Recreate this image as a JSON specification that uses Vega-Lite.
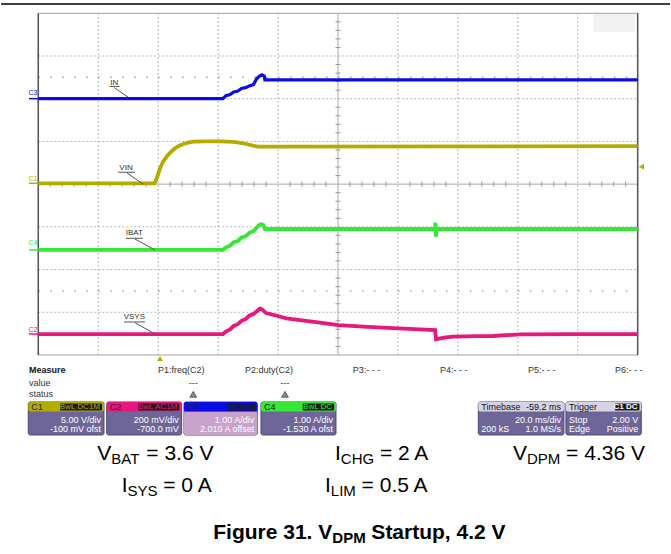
{
"$schema": "https://vega.github.io/schema/vega-lite/v6.json",
"width": 671, "height": 554,
"autosize": {"type": "fit", "contains": "padding"},
"padding": 0,
"background": "white",
"config": {"view": {"stroke": null}, "axis": {"disable": true}, "legend": {"disable": true}},
"datasets": {
"vgrid": [{"x":1},{"x":2},{"x":3},{"x":4},{"x":6},{"x":7},{"x":8},{"x":9}],
"hgrid": [{"y":1},{"y":2},{"y":3},{"y":5},{"y":6},{"y":7}],
"xticks": [{"x":0.2},{"x":0.4},{"x":0.6},{"x":0.8},{"x":1.2},{"x":1.4},{"x":1.6},{"x":1.8},{"x":2.2},{"x":2.4},{"x":2.6},{"x":2.8},{"x":3.2},{"x":3.4},{"x":3.6},{"x":3.8},{"x":4.2},{"x":4.4},{"x":4.6},{"x":4.8},{"x":5.2},{"x":5.4},{"x":5.6},{"x":5.8},{"x":6.2},{"x":6.4},{"x":6.6},{"x":6.8},{"x":7.2},{"x":7.4},{"x":7.6},{"x":7.8},{"x":8.2},{"x":8.4},{"x":8.6},{"x":8.8},{"x":9.2},{"x":9.4},{"x":9.6},{"x":9.8}],
"yticks": [{"y":0.2},{"y":0.4},{"y":0.6},{"y":0.8},{"y":1.2},{"y":1.4},{"y":1.6},{"y":1.8},{"y":2.2},{"y":2.4},{"y":2.6},{"y":2.8},{"y":3.2},{"y":3.4},{"y":3.6},{"y":3.8},{"y":4.2},{"y":4.4},{"y":4.6},{"y":4.8},{"y":5.2},{"y":5.4},{"y":5.6},{"y":5.8},{"y":6.2},{"y":6.4},{"y":6.6},{"y":6.8},{"y":7.2},{"y":7.4},{"y":7.6},{"y":7.8}],
"dots": [{"y":6.5},{"y":1.5}],
"edges": [{"x":0},{"x":10}],
"traces": [
{"ch":"C3","x":0,"y":6.0},{"ch":"C3","x":3.08,"y":6.0},{"ch":"C3","x":3.13,"y":6.07},{"ch":"C3","x":3.2,"y":6.1},{"ch":"C3","x":3.26,"y":6.16},{"ch":"C3","x":3.33,"y":6.18},{"ch":"C3","x":3.39,"y":6.24},{"ch":"C3","x":3.46,"y":6.26},{"ch":"C3","x":3.52,"y":6.3},{"ch":"C3","x":3.59,"y":6.33},{"ch":"C3","x":3.64,"y":6.46},{"ch":"C3","x":3.68,"y":6.52},{"ch":"C3","x":3.73,"y":6.56},{"ch":"C3","x":3.77,"y":6.53},{"ch":"C3","x":3.78,"y":6.44},{"ch":"C3","x":10,"y":6.44},
{"ch":"C1","x":0,"y":4.02},{"ch":"C1","x":1.94,"y":4.02},{"ch":"C1","x":1.98,"y":4.15},{"ch":"C1","x":2.03,"y":4.37},{"ch":"C1","x":2.08,"y":4.52},{"ch":"C1","x":2.14,"y":4.64},{"ch":"C1","x":2.21,"y":4.75},{"ch":"C1","x":2.28,"y":4.84},{"ch":"C1","x":2.35,"y":4.9},{"ch":"C1","x":2.42,"y":4.94},{"ch":"C1","x":2.5,"y":4.97},{"ch":"C1","x":2.59,"y":4.995},{"ch":"C1","x":2.8,"y":5.0},{"ch":"C1","x":3.05,"y":5.0},{"ch":"C1","x":3.25,"y":4.99},{"ch":"C1","x":3.35,"y":4.97},{"ch":"C1","x":3.47,"y":4.94},{"ch":"C1","x":3.58,"y":4.9},{"ch":"C1","x":3.67,"y":4.88},{"ch":"C1","x":4.0,"y":4.88},{"ch":"C1","x":10,"y":4.89},
{"ch":"C4","x":0,"y":2.46},{"ch":"C4","x":3.08,"y":2.46},{"ch":"C4","x":3.13,"y":2.52},{"ch":"C4","x":3.2,"y":2.56},{"ch":"C4","x":3.26,"y":2.64},{"ch":"C4","x":3.33,"y":2.67},{"ch":"C4","x":3.39,"y":2.75},{"ch":"C4","x":3.46,"y":2.78},{"ch":"C4","x":3.52,"y":2.86},{"ch":"C4","x":3.59,"y":2.9},{"ch":"C4","x":3.64,"y":2.98},{"ch":"C4","x":3.68,"y":3.04},{"ch":"C4","x":3.72,"y":3.06},{"ch":"C4","x":3.76,"y":3.04},{"ch":"C4","x":3.78,"y":2.95},{"ch":"C4","x":6.62,"y":2.95},{"ch":"C4","x":6.625,"y":3.1},{"ch":"C4","x":6.635,"y":2.77},{"ch":"C4","x":6.645,"y":2.95},{"ch":"C4","x":10,"y":2.95},
{"ch":"C2","x":0,"y":0.49},{"ch":"C2","x":3.08,"y":0.49},{"ch":"C2","x":3.13,"y":0.55},{"ch":"C2","x":3.2,"y":0.6},{"ch":"C2","x":3.26,"y":0.68},{"ch":"C2","x":3.33,"y":0.72},{"ch":"C2","x":3.39,"y":0.8},{"ch":"C2","x":3.46,"y":0.84},{"ch":"C2","x":3.52,"y":0.92},{"ch":"C2","x":3.59,"y":0.96},{"ch":"C2","x":3.65,"y":1.03},{"ch":"C2","x":3.7,"y":1.09},{"ch":"C2","x":3.74,"y":1.06},{"ch":"C2","x":3.8,"y":0.98},{"ch":"C2","x":3.95,"y":0.93},{"ch":"C2","x":4.14,"y":0.86},{"ch":"C2","x":4.4,"y":0.81},{"ch":"C2","x":4.7,"y":0.76},{"ch":"C2","x":5.0,"y":0.7},{"ch":"C2","x":5.5,"y":0.66},{"ch":"C2","x":6.0,"y":0.625},{"ch":"C2","x":6.62,"y":0.585},{"ch":"C2","x":6.635,"y":0.37},{"ch":"C2","x":6.8,"y":0.41},{"ch":"C2","x":6.92,"y":0.43},{"ch":"C2","x":7.3,"y":0.44},{"ch":"C2","x":7.59,"y":0.445},{"ch":"C2","x":8.04,"y":0.485},{"ch":"C2","x":9,"y":0.49},{"ch":"C2","x":10,"y":0.49}
],
"chan": [{"ch":"C3","y":6.0,"ly":6.127},{"ch":"C1","y":4.02,"ly":4.114},{"ch":"C4","y":2.458,"ly":2.63},{"ch":"C2","y":0.49,"ly":0.585}],
"tlabels": [
{"t":"IN","x":1.268,"y":6.376,"ux1":1.188,"ux2":1.355,"uy":6.287,"lx1":1.268,"ly1":6.26,"lx2":1.501,"ly2":6.034},
{"t":"VIN","x":1.463,"y":4.371,"ux1":1.33,"ux2":1.613,"uy":4.278,"lx1":1.475,"ly1":4.268,"lx2":1.752,"ly2":3.997},
{"t":"IBAT","x":1.602,"y":2.849,"ux1":1.463,"ux2":1.747,"uy":2.732,"lx1":1.613,"ly1":2.716,"lx2":1.947,"ly2":2.458},
{"t":"VSYS","x":1.602,"y":0.883,"ux1":1.43,"ux2":1.78,"uy":0.773,"lx1":1.613,"ly1":0.756,"lx2":1.947,"ly2":0.492}
],
"measure": [
{"t":"value","x":-0.155,"y":-0.656},{"t":"status","x":-0.155,"y":-0.92},
{"t":"P1:freq(C2)","x":1.997,"y":-0.351},{"t":"P2:duty(C2)","x":3.448,"y":-0.351},
{"t":"P3:- - -","x":5.245,"y":-0.351},{"t":"P4:- - -","x":6.702,"y":-0.351},
{"t":"P5:- - -","x":8.17,"y":-0.351},{"t":"P6:- - -","x":9.621,"y":-0.351}
],
"mbold": [{"t":"Measure","x":-0.155,"y":-0.351}],
"mdash": [{"t":"---","x":2.586,"y":-0.656},{"t":"---","x":4.116,"y":-0.656}],
"warn": [{"x":2.586,"y":-0.92},{"x":4.116,"y":-0.92}],
"chboxes": [
{"ch":"C1","x1":-0.167,"x2":1.096,"bx1":0.362,"bx2":1.063,"badge":"BwL DC1M","b1":"5.00 V/div","b2":"-100 mV ofst"},
{"ch":"C2","x1":1.141,"x2":2.392,"bx1":1.668,"bx2":2.352,"badge":"BwL AC1M","b1":"200 mV/div","b2":"-700.0 mV"},
{"ch":"C3","x1":2.431,"x2":3.654,"bx1":3.143,"bx2":3.62,"badge":"BwL DC","b1":"1.00 A/div","b2":"2.010 A offset"},
{"ch":"C4","x1":3.715,"x2":4.967,"bx1":4.411,"bx2":4.935,"badge":"BwL DC","b1":"1.00 A/div","b2":"-1.530 A ofst"}
],
"sysboxes": [
{"x1":7.341,"x2":8.77,"h1":"Timebase","h2":"-59.2 ms","l1a":"","l1b":"20.0 ms/div","l2a":"200 kS","l2b":"1.0 MS/s"},
{"x1":8.803,"x2":10.06,"h1":"Trigger","h2":"","l1a":"Stop","l1b":"2.00 V","l2a":"Edge","l2b":"Positive"}
],
"trigbadge": [{"bx1":9.62,"bx2":10.03,"badge":"C1 DC"}],
"caption": [
{"sym":"V","sub":"BAT","rest":"= 3.6 V","x":1.218,"xr":1.802,"y":-2.458},
{"sym":"I","sub":"CHG","rest":"= 2 A","x":5.047,"xr":5.699,"y":-2.458},
{"sym":"V","sub":"DPM","rest":"= 4.36 V","x":8.153,"xr":8.806,"y":-2.458},
{"sym":"I","sub":"SYS","rest":"= 0 A","x":1.488,"xr":2.085,"y":-3.196},
{"sym":"I","sub":"LIM","rest":"= 0.5 A","x":4.88,"xr":5.394,"y":-3.196}
],
"figcap": [{"sym":"Figure 31. V","sub":"DPM","rest":"Startup, 4.2 V","x":4.905,"xr":5.557,"y":-4.308}]
},
"layer": [
{"data":{"values":[{}]},"mark":{"type":"rule","stroke":"#000000","strokeWidth":1.5},
 "encoding":{"x":{"datum":-0.62,"type":"quantitative","scale":{"domain":[-0.639,10.556],"nice":false,"zero":false},"axis":null},"x2":{"datum":10.54},"y":{"datum":8.218,"type":"quantitative","scale":{"domain":[-4.659,8.311],"nice":false,"zero":false},"axis":null}}},
{"data":{"values":[{}]},"mark":{"type":"rect","fill":"#ffffff","stroke":"#a0a0a0","strokeWidth":1},
 "encoding":{"x":{"datum":0,"type":"quantitative","axis":null},"x2":{"datum":10},"y":{"datum":0,"type":"quantitative","axis":null},"y2":{"datum":8}}},
{"data":{"values":[{}]},"mark":{"type":"rect","fill":"#f1f1f1"},
 "encoding":{"x":{"datum":9.26,"type":"quantitative","axis":null},"x2":{"datum":9.955},"y":{"datum":7.57,"type":"quantitative","axis":null},"y2":{"datum":7.985}}},
{"data":{"name":"vgrid"},"mark":{"type":"rule","stroke":"#b5b5b5","strokeDash":[2,2],"strokeWidth":1},
 "encoding":{"x":{"field":"x","type":"quantitative","axis":null},"y":{"datum":0,"type":"quantitative","axis":null},"y2":{"datum":8}}},
{"data":{"name":"hgrid"},"mark":{"type":"rule","stroke":"#b5b5b5","strokeDash":[2,2],"strokeWidth":1},
 "encoding":{"y":{"field":"y","type":"quantitative","axis":null},"x":{"datum":0,"type":"quantitative","axis":null},"x2":{"datum":10}}},
{"data":{"values":[{}]},"mark":{"type":"rule","stroke":"#a8a8a8","strokeWidth":1},
 "encoding":{"x":{"datum":5,"type":"quantitative","axis":null},"y":{"datum":0,"type":"quantitative","axis":null},"y2":{"datum":8}}},
{"data":{"values":[{}]},"mark":{"type":"rule","stroke":"#a8a8a8","strokeWidth":1},
 "encoding":{"y":{"datum":4,"type":"quantitative","axis":null},"x":{"datum":0,"type":"quantitative","axis":null},"x2":{"datum":10}}},
{"data":{"name":"xticks"},"mark":{"type":"rule","stroke":"#999999","strokeWidth":1},
 "encoding":{"x":{"field":"x","type":"quantitative","axis":null},"y":{"datum":3.94,"type":"quantitative","axis":null},"y2":{"datum":4.06}}},
{"data":{"name":"yticks"},"mark":{"type":"rule","stroke":"#999999","strokeWidth":1},
 "encoding":{"y":{"field":"y","type":"quantitative","axis":null},"x":{"datum":4.958,"type":"quantitative","axis":null},"x2":{"datum":5.042}}},
{"data":{"name":"dots"},"mark":{"type":"rule","stroke":"#a0a0a0","strokeWidth":1.5,"strokeDash":[1.5,10.49]},
 "encoding":{"y":{"field":"y","type":"quantitative","axis":null},"x":{"datum":0,"type":"quantitative","axis":null},"x2":{"datum":10}}},
{"data":{"name":"edges"},"mark":{"type":"rule","stroke":"#555555","strokeWidth":1.5},
 "encoding":{"x":{"field":"x","type":"quantitative","axis":null},"y":{"datum":0,"type":"quantitative","axis":null},"y2":{"datum":8}}},
{"data":{"name":"traces"},"transform":[{"filter":"datum.ch === 'C3'"}],"mark":{"type":"line","strokeWidth":3.2},
 "encoding":{"x":{"field":"x","type":"quantitative","axis":null},"y":{"field":"y","type":"quantitative","axis":null},
  "color":{"field":"ch","type":"nominal","scale":{"domain":["C1","C2","C3","C4"],"range":["#b3ab00","#e8177d","#0c0ce6","#35e835"]},"legend":null}}},
{"data":{"name":"traces"},"transform":[{"filter":"datum.ch !== 'C3'"}],"mark":{"type":"line","strokeWidth":3.8},
 "encoding":{"x":{"field":"x","type":"quantitative","axis":null},"y":{"field":"y","type":"quantitative","axis":null},
  "color":{"field":"ch","type":"nominal","legend":null}}},
{"data":{"name":"chan"},"mark":{"type":"rule","strokeWidth":1.5},
 "encoding":{"x":{"datum":-0.155,"type":"quantitative","axis":null},"x2":{"datum":0},"y":{"field":"y","type":"quantitative","axis":null},
  "color":{"field":"ch","type":"nominal","legend":null}}},
{"data":{"name":"chan"},"mark":{"type":"text","fontSize":7,"font":"Liberation Sans","align":"center","baseline":"middle"},
 "encoding":{"x":{"datum":-0.09,"type":"quantitative","axis":null},"y":{"field":"ly","type":"quantitative","axis":null},"text":{"field":"ch"},
  "color":{"field":"ch","type":"nominal","legend":null}}},
{"data":{"name":"tlabels"},"mark":{"type":"text","fontSize":8,"font":"Liberation Sans","fill":"#333333","align":"center","baseline":"middle"},
 "encoding":{"x":{"field":"x","type":"quantitative","axis":null},"y":{"field":"y","type":"quantitative","axis":null},"text":{"field":"t"}}},
{"data":{"name":"tlabels"},"mark":{"type":"rule","stroke":"#555555","strokeWidth":1},
 "encoding":{"x":{"field":"ux1","type":"quantitative","axis":null},"x2":{"field":"ux2"},"y":{"field":"uy","type":"quantitative","axis":null}}},
{"data":{"name":"tlabels"},"mark":{"type":"rule","stroke":"#555555","strokeWidth":1},
 "encoding":{"x":{"field":"lx1","type":"quantitative","axis":null},"x2":{"field":"lx2"},"y":{"field":"ly1","type":"quantitative","axis":null},"y2":{"field":"ly2"}}},
{"data":{"values":[{}]},"mark":{"type":"point","shape":"triangle-up","size":35,"filled":true,"fill":"#b3ab00","opacity":1,"strokeWidth":0},
 "encoding":{"x":{"datum":2.03,"type":"quantitative","axis":null},"y":{"datum":-0.082,"type":"quantitative","axis":null}}},
{"data":{"values":[{}]},"mark":{"type":"point","shape":"triangle-left","size":35,"filled":true,"fill":"#b3ab00","opacity":1,"strokeWidth":0},
 "encoding":{"x":{"datum":10.062,"type":"quantitative","axis":null},"y":{"datum":4.409,"type":"quantitative","axis":null}}},
{"data":{"name":"mbold"},"mark":{"type":"text","fontSize":9,"font":"Liberation Sans","fontWeight":"bold","fill":"#111111","align":"left","baseline":"middle"},
 "encoding":{"x":{"field":"x","type":"quantitative","axis":null},"y":{"field":"y","type":"quantitative","axis":null},"text":{"field":"t"}}},
{"data":{"name":"measure"},"mark":{"type":"text","fontSize":9,"font":"Liberation Sans","fill":"#333333","align":"left","baseline":"middle"},
 "encoding":{"x":{"field":"x","type":"quantitative","axis":null},"y":{"field":"y","type":"quantitative","axis":null},"text":{"field":"t"}}},
{"data":{"name":"mdash"},"mark":{"type":"text","fontSize":9,"font":"Liberation Sans","fill":"#333333","align":"center","baseline":"middle"},
 "encoding":{"x":{"field":"x","type":"quantitative","axis":null},"y":{"field":"y","type":"quantitative","axis":null},"text":{"field":"t"}}},
{"data":{"name":"warn"},"mark":{"type":"point","shape":"triangle-up","size":45,"filled":true,"fill":"#8a8a8a","stroke":"#444444","strokeWidth":0.8,"opacity":1},
 "encoding":{"x":{"field":"x","type":"quantitative","axis":null},"y":{"field":"y","type":"quantitative","axis":null}}},
{"data":{"name":"chboxes"},"mark":{"type":"rect","fill":"#6e6699","stroke":"#4e4878","strokeWidth":1,"cornerRadius":2},
 "encoding":{"x":{"field":"x1","type":"quantitative","axis":null},"x2":{"field":"x2"},"y":{"datum":-1.1,"type":"quantitative","axis":null},"y2":{"datum":-1.873}}},
{"data":{"name":"chboxes"},"transform":[{"filter":"datum.ch === 'C3'"}],"mark":{"type":"rect","fill":"#c9a2cc","cornerRadius":2},
 "encoding":{"x":{"field":"x1","type":"quantitative","axis":null},"x2":{"field":"x2"},"y":{"datum":-1.323,"type":"quantitative","axis":null},"y2":{"datum":-1.873}}},
{"data":{"name":"chboxes"},"mark":{"type":"rect","cornerRadius":2},
 "encoding":{"x":{"field":"x1","type":"quantitative","axis":null},"x2":{"field":"x2"},"y":{"datum":-1.1,"type":"quantitative","axis":null},"y2":{"datum":-1.323},
  "color":{"field":"ch","type":"nominal","legend":null}}},
{"data":{"name":"chboxes"},"mark":{"type":"rect","fill":"#1c1c1c","cornerRadius":1},
 "encoding":{"x":{"field":"bx1","type":"quantitative","axis":null},"x2":{"field":"bx2"},"y":{"datum":-1.136,"type":"quantitative","axis":null},"y2":{"datum":-1.3}}},
{"data":{"name":"chboxes"},"mark":{"type":"text","fontSize":8,"font":"Liberation Sans","align":"right","baseline":"middle","dx":-2},
 "encoding":{"x":{"field":"bx2","type":"quantitative","axis":null},"y":{"datum":-1.218,"type":"quantitative","axis":null},"text":{"field":"badge"},
  "color":{"field":"ch","type":"nominal","legend":null}}},
{"data":{"name":"chboxes"},"mark":{"type":"text","fontSize":9,"font":"Liberation Sans","fill":"#222222","align":"left","baseline":"middle","dx":3},
 "encoding":{"x":{"field":"x1","type":"quantitative","axis":null},"y":{"datum":-1.21,"type":"quantitative","axis":null},"text":{"field":"ch"}}},
{"data":{"name":"chboxes"},"mark":{"type":"text","fontSize":9,"font":"Liberation Sans","fill":"#ffffff","align":"right","baseline":"middle","dx":-3},
 "encoding":{"x":{"field":"x2","type":"quantitative","axis":null},"y":{"datum":-1.515,"type":"quantitative","axis":null},"text":{"field":"b1"}}},
{"data":{"name":"chboxes"},"mark":{"type":"text","fontSize":9,"font":"Liberation Sans","fill":"#ffffff","align":"right","baseline":"middle","dx":-3},
 "encoding":{"x":{"field":"x2","type":"quantitative","axis":null},"y":{"datum":-1.733,"type":"quantitative","axis":null},"text":{"field":"b2"}}},
{"data":{"name":"sysboxes"},"mark":{"type":"rect","fill":"#6e6699","stroke":"#4e4878","strokeWidth":1,"cornerRadius":2},
 "encoding":{"x":{"field":"x1","type":"quantitative","axis":null},"x2":{"field":"x2"},"y":{"datum":-1.1,"type":"quantitative","axis":null},"y2":{"datum":-1.873}}},
{"data":{"name":"sysboxes"},"mark":{"type":"rect","fill":"#d7d3e3","cornerRadius":2},
 "encoding":{"x":{"field":"x1","type":"quantitative","axis":null},"x2":{"field":"x2"},"y":{"datum":-1.1,"type":"quantitative","axis":null},"y2":{"datum":-1.323}}},
{"data":{"name":"trigbadge"},"mark":{"type":"rect","fill":"#1c1c1c","cornerRadius":1},
 "encoding":{"x":{"field":"bx1","type":"quantitative","axis":null},"x2":{"field":"bx2"},"y":{"datum":-1.136,"type":"quantitative","axis":null},"y2":{"datum":-1.3}}},
{"data":{"name":"trigbadge"},"mark":{"type":"text","fontSize":8,"font":"Liberation Sans","fontWeight":"bold","fill":"#ffffff","align":"right","baseline":"middle","dx":-2},
 "encoding":{"x":{"field":"bx2","type":"quantitative","axis":null},"y":{"datum":-1.218,"type":"quantitative","axis":null},"text":{"field":"badge"}}},
{"data":{"name":"sysboxes"},"mark":{"type":"text","fontSize":9,"font":"Liberation Sans","fill":"#111111","align":"left","baseline":"middle","dx":3},
 "encoding":{"x":{"field":"x1","type":"quantitative","axis":null},"y":{"datum":-1.21,"type":"quantitative","axis":null},"text":{"field":"h1"}}},
{"data":{"name":"sysboxes"},"mark":{"type":"text","fontSize":9,"font":"Liberation Sans","fill":"#111111","align":"right","baseline":"middle","dx":-3},
 "encoding":{"x":{"field":"x2","type":"quantitative","axis":null},"y":{"datum":-1.21,"type":"quantitative","axis":null},"text":{"field":"h2"}}},
{"data":{"name":"sysboxes"},"mark":{"type":"text","fontSize":9,"font":"Liberation Sans","fill":"#ffffff","align":"left","baseline":"middle","dx":3},
 "encoding":{"x":{"field":"x1","type":"quantitative","axis":null},"y":{"datum":-1.515,"type":"quantitative","axis":null},"text":{"field":"l1a"}}},
{"data":{"name":"sysboxes"},"mark":{"type":"text","fontSize":9,"font":"Liberation Sans","fill":"#ffffff","align":"right","baseline":"middle","dx":-3},
 "encoding":{"x":{"field":"x2","type":"quantitative","axis":null},"y":{"datum":-1.515,"type":"quantitative","axis":null},"text":{"field":"l1b"}}},
{"data":{"name":"sysboxes"},"mark":{"type":"text","fontSize":9,"font":"Liberation Sans","fill":"#ffffff","align":"left","baseline":"middle","dx":3},
 "encoding":{"x":{"field":"x1","type":"quantitative","axis":null},"y":{"datum":-1.733,"type":"quantitative","axis":null},"text":{"field":"l2a"}}},
{"data":{"name":"sysboxes"},"mark":{"type":"text","fontSize":9,"font":"Liberation Sans","fill":"#ffffff","align":"right","baseline":"middle","dx":-3},
 "encoding":{"x":{"field":"x2","type":"quantitative","axis":null},"y":{"datum":-1.733,"type":"quantitative","axis":null},"text":{"field":"l2b"}}},
{"data":{"name":"caption"},"mark":{"type":"text","fontSize":21,"font":"Liberation Sans","fill":"#000000","align":"right","baseline":"alphabetic"},
 "encoding":{"x":{"field":"x","type":"quantitative","axis":null},"y":{"field":"y","type":"quantitative","axis":null},"text":{"field":"sym"}}},
{"data":{"name":"caption"},"mark":{"type":"text","fontSize":15,"font":"Liberation Sans","fill":"#000000","align":"left","baseline":"alphabetic","dy":4},
 "encoding":{"x":{"field":"x","type":"quantitative","axis":null},"y":{"field":"y","type":"quantitative","axis":null},"text":{"field":"sub"}}},
{"data":{"name":"caption"},"mark":{"type":"text","fontSize":21,"font":"Liberation Sans","fill":"#000000","align":"left","baseline":"alphabetic"},
 "encoding":{"x":{"field":"xr","type":"quantitative","axis":null},"y":{"field":"y","type":"quantitative","axis":null},"text":{"field":"rest"}}},
{"data":{"name":"figcap"},"mark":{"type":"text","fontSize":21,"font":"Liberation Sans","fontWeight":"bold","fill":"#000000","align":"right","baseline":"alphabetic"},
 "encoding":{"x":{"field":"x","type":"quantitative","axis":null},"y":{"field":"y","type":"quantitative","axis":null},"text":{"field":"sym"}}},
{"data":{"name":"figcap"},"mark":{"type":"text","fontSize":15,"font":"Liberation Sans","fontWeight":"bold","fill":"#000000","align":"left","baseline":"alphabetic","dy":4},
 "encoding":{"x":{"field":"x","type":"quantitative","axis":null},"y":{"field":"y","type":"quantitative","axis":null},"text":{"field":"sub"}}},
{"data":{"name":"figcap"},"mark":{"type":"text","fontSize":21,"font":"Liberation Sans","fontWeight":"bold","fill":"#000000","align":"left","baseline":"alphabetic"},
 "encoding":{"x":{"field":"xr","type":"quantitative","axis":null},"y":{"field":"y","type":"quantitative","axis":null},"text":{"field":"rest"}}}
]
}
